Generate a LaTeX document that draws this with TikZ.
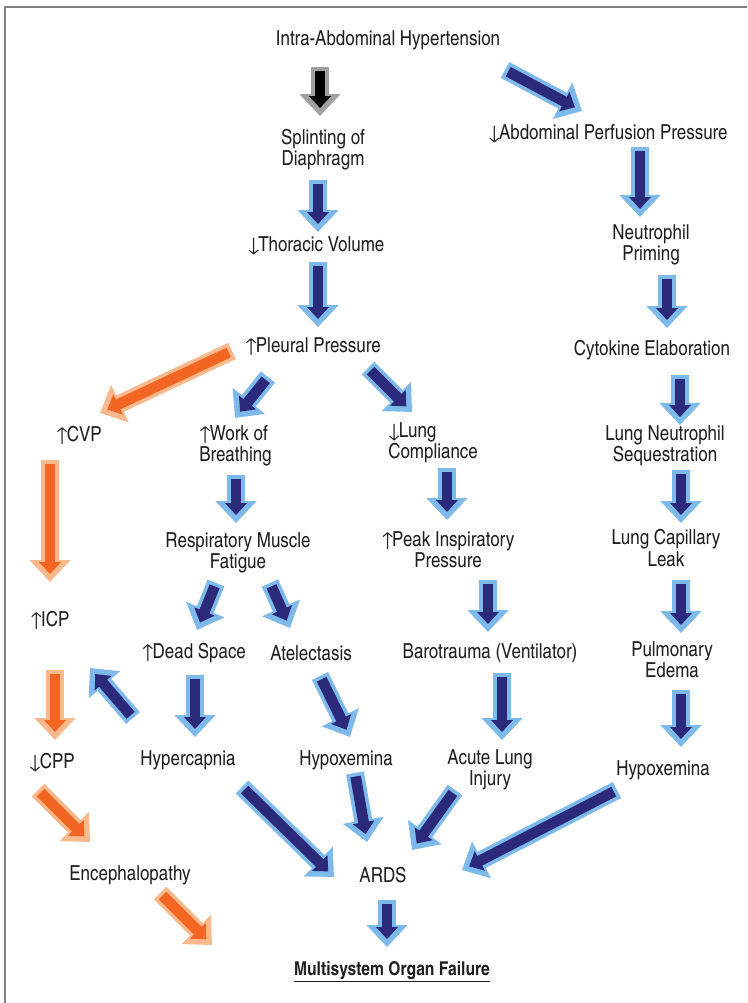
\documentclass[tikz,border=0pt]{standalone}
\usepackage{fontspec}
\setmainfont{TeX Gyre Heros Cn}
\usetikzlibrary{arrows.meta}
\definecolor{navy}{RGB}{43,42,122}
\definecolor{lblue}{RGB}{125,185,235}
\definecolor{orng}{RGB}{242,101,34}
\definecolor{lorng}{RGB}{250,185,140}
\definecolor{gtip}{RGB}{160,160,160}
\definecolor{txt}{RGB}{30,30,30}
\definecolor{frame}{RGB}{128,128,128}
\newcommand\upar{\kern-1pt↑\kern-2pt}
\newcommand\dnar{\kern-1pt↓\kern-2pt}
\tikzset{
  lbl/.style={font=\fontsize{15.5}{15.8}\selectfont, text=txt, inner sep=0pt, align=center},
  lbll/.style={lbl, align=left},
  arrout/.style={line width=13.5pt, -{Triangle[length=16.5pt,width=30pt]}},
  arrin/.style={line width=8pt, -{Triangle[length=9pt,width=16pt]}, shorten >=6pt, shorten <=2.7pt},
  navyout/.style={arrout, draw=lblue, fill=lblue},
  navyin/.style={arrin, draw=navy, fill=navy},
  orout/.style={arrout, draw=lorng, fill=lorng},
  orin/.style={arrin, draw=orng, fill=orng},
  blkout/.style={arrout, draw=gtip, fill=gtip},
  blkin/.style={arrin, draw=black, fill=black},
}
\newcommand\blockarr[3]{\draw[#1out] (#2) -- (#3); \draw[#1in] (#2) -- (#3);}
\begin{document}
\begin{tikzpicture}[x=0.75pt,y=-0.75pt]
\useasboundingbox (0,0) rectangle (747,1003);
\fill[white] (0,0) rectangle (747,1003);
\coordinate (fTR) at (747,6.5);
\coordinate (fTL) at (4.5,6.5);
\coordinate (fBL) at (4.5,1003);
\draw[frame, line width=1.5pt] (fTR) -- (fTL) -- (fBL);
% labels
\node[lbl] (iah) at (388,40) {Intra-Abdominal Hypertension};
\node[lbl] (spl) at (323,150) {Splinting of\\Diaphragm};
\node[lbl] (thv) at (316,246) {\dnar Thoracic Volume};
\node[lbl] (plp) at (313,347) {\upar Pleural Pressure};
\node[lbl] (app) at (608,134) {\dnar Abdominal Perfusion Pressure};
\node[lbl] (nep) at (651,245) {Neutrophil\\Priming};
\node[lbl] (cyt) at (652,350) {Cytokine Elaboration};
\node[lbl] (lns) at (665,446) {Lung Neutrophil\\Sequestration};
\node[lbl] (lcl) at (666,548) {Lung Capillary\\Leak};
\node[lbl] (pue) at (672,660) {Pulmonary\\Edema};
\node[lbl] (hxr) at (663,770) {Hypoxemina};
\node[lbl] (cvp) at (79,435) {\upar CVP};
\node[lbll, anchor=west] (wob) at (199,446) {\upar Work of\\Breathing};
\node[lbll, anchor=west] (lco) at (388,443) {\dnar Lung\\Compliance};
\node[lbl] (rmf) at (238,553) {Respiratory Muscle\\Fatigue};
\node[lbl] (pip) at (448,550) {\upar Peak Inspiratory\\Pressure};
\node[lbl] (icp) at (50,620) {\upar ICP};
\node[lbl] (dsp) at (194,653) {\upar Dead Space};
\node[lbl] (ate) at (311,653) {Atelectasis};
\node[lbl] (bar) at (490,653) {Barotrauma (Ventilator)};
\node[lbl] (cpp) at (52,763) {\dnar CPP};
\node[lbl] (hyc) at (188,760) {Hypercapnia};
\node[lbl] (hxm) at (346,760) {Hypoxemina};
\node[lbl] (ali) at (490,770) {Acute Lung\\Injury};
\node[lbl] (enc) at (130,875) {Encephalopathy};
\node[lbl] (ards) at (383,875) {ARDS};
\node[lbl, font=\fontsize{14.3}{15}\selectfont\bfseries] (mof) at (392,972) {\underline{Multisystem Organ Failure}};
% arrow end points
\coordinate (a1s) at (320,67);  \coordinate (a1e) at (320,116);
\coordinate (a2s) at (505,70);  \coordinate (a2e) at (582,111);
\coordinate (a3s) at (318,180); \coordinate (a3e) at (318,232);
\coordinate (a4s) at (318,262); \coordinate (a4e) at (318,327);
\coordinate (a5s) at (232,351); \coordinate (a5e) at (100,413);
\coordinate (a6s) at (268,377); \coordinate (a6e) at (235,418);
\coordinate (a7s) at (368,368); \coordinate (a7e) at (412,412);
\coordinate (a8s) at (236,475); \coordinate (a8e) at (236,523);
\coordinate (a9s) at (447,468); \coordinate (a9e) at (447,520);
\coordinate (a10s) at (216,583); \coordinate (a10e) at (197,630);
\coordinate (a11s) at (270,583); \coordinate (a11e) at (290,628);
\coordinate (a12s) at (488,580); \coordinate (a12e) at (488,632);
\coordinate (a13s) at (50,460); \coordinate (a13e) at (50,582);
\coordinate (a14s) at (55,670); \coordinate (a14e) at (55,740);
\coordinate (a15s) at (133,718); \coordinate (a15e) at (90,668);
\coordinate (a16s) at (195,675); \coordinate (a16e) at (195,737);
\coordinate (a17s) at (320,676); \coordinate (a17e) at (350,737);
\coordinate (a18s) at (502,673); \coordinate (a18e) at (502,740);
\coordinate (a19s) at (38,790); \coordinate (a19e) at (90,842);
\coordinate (a20s) at (242,787); \coordinate (a20e) at (334,877);
\coordinate (a21s) at (355,773); \coordinate (a21e) at (367,842);
\coordinate (a22s) at (455,790); \coordinate (a22e) at (412,850);
\coordinate (a23s) at (617,790); \coordinate (a23e) at (462,870);
\coordinate (a24s) at (160,893); \coordinate (a24e) at (212,945);
\coordinate (a25s) at (387,900); \coordinate (a25e) at (387,947);
\coordinate (a26s) at (640,147); \coordinate (a26e) at (640,217);
\coordinate (a27s) at (667,275); \coordinate (a27e) at (667,328);
\coordinate (a28s) at (680,375); \coordinate (a28e) at (680,425);
\coordinate (a29s) at (681,470); \coordinate (a29e) at (681,523);
\coordinate (a30s) at (681,580); \coordinate (a30e) at (681,633);
\coordinate (a31s) at (681,690); \coordinate (a31e) at (681,747);
% arrows
\blockarr{blk}{a1s}{a1e}
\blockarr{navy}{a2s}{a2e}
\blockarr{navy}{a3s}{a3e}
\blockarr{navy}{a4s}{a4e}
\blockarr{or}{a5s}{a5e}
\blockarr{navy}{a6s}{a6e}
\blockarr{navy}{a7s}{a7e}
\blockarr{navy}{a8s}{a8e}
\blockarr{navy}{a9s}{a9e}
\blockarr{navy}{a10s}{a10e}
\blockarr{navy}{a11s}{a11e}
\blockarr{navy}{a12s}{a12e}
\blockarr{or}{a13s}{a13e}
\blockarr{or}{a14s}{a14e}
\blockarr{navy}{a15s}{a15e}
\blockarr{navy}{a16s}{a16e}
\blockarr{navy}{a17s}{a17e}
\blockarr{navy}{a18s}{a18e}
\blockarr{or}{a19s}{a19e}
\blockarr{navy}{a20s}{a20e}
\blockarr{navy}{a21s}{a21e}
\blockarr{navy}{a22s}{a22e}
\blockarr{navy}{a23s}{a23e}
\blockarr{or}{a24s}{a24e}
\blockarr{navy}{a25s}{a25e}
\blockarr{navy}{a26s}{a26e}
\blockarr{navy}{a27s}{a27e}
\blockarr{navy}{a28s}{a28e}
\blockarr{navy}{a29s}{a29e}
\blockarr{navy}{a30s}{a30e}
\blockarr{navy}{a31s}{a31e}
\end{tikzpicture}
\end{document}
